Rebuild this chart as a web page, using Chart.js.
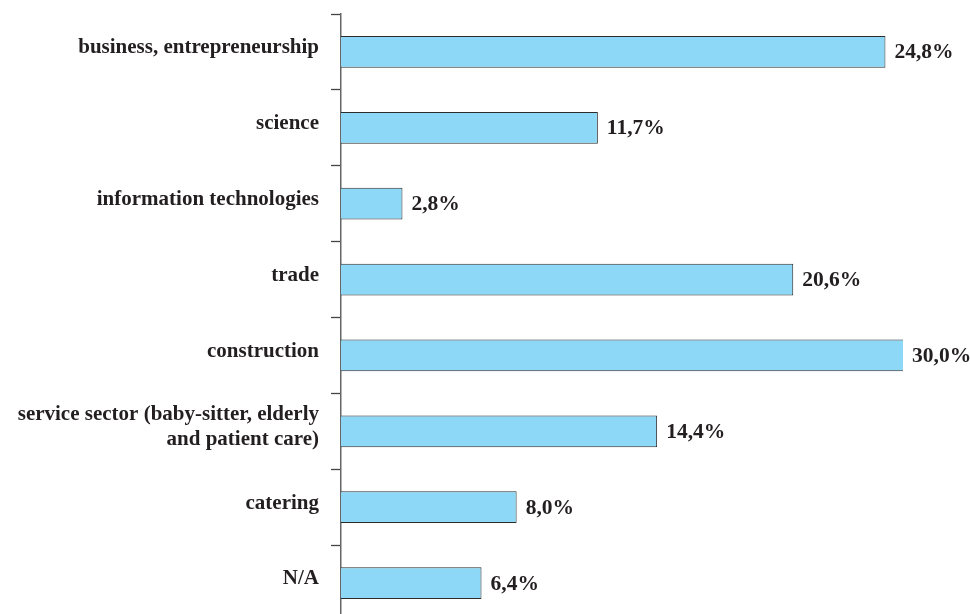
<!DOCTYPE html>
<html>
<head>
<meta charset="utf-8">
<script src="https://cdn.jsdelivr.net/npm/chart.js@4"></script>
<style>
  html, body { margin: 0; padding: 0; background: #fff; overflow: hidden; }
  #wrap { width: 970px; height: 640px; }
</style>
</head>
<body>
<div id="wrap"><canvas id="myChart" width="970" height="640"></canvas></div>
<script>
// categories and values
var categories = [
  'business, entrepreneurship',
  'science',
  'information technologies',
  'trade',
  'construction',
  ['service sector (baby-sitter, elderly', 'and patient care)'],
  'catering',
  'N/A'
];
var shares = [24.8, 11.7, 2.8, 20.6, 30.0, 14.4, 8.0, 6.4];

// the longest bar runs past the plot edge in the original, so the scale stops short
var axisMax = 25.6;

// draws "24,8%" style labels at the end of each bar
var valueLabels = {
  id: 'valueLabels',
  afterDatasetsDraw: function(chart) {
    var ctx = chart.ctx;
    var meta = chart.getDatasetMeta(0);
    ctx.save();
    ctx.font = 'bold 21.5px "Liberation Serif", "Times New Roman", serif';
    ctx.fillStyle = '#231f20';
    ctx.textAlign = 'left';
    ctx.textBaseline = 'middle';
    meta.data.forEach(function(bar, i) {
      var txt = shares[i].toFixed(1).replace('.', ',') + '%';
      var end = Math.min(bar.x, chart.chartArea.right);
      ctx.fillText(txt, end + 9, bar.y + 1);
    });
    ctx.restore();
  }
};

function displayChart() {
  var ctx = document.getElementById('myChart').getContext('2d');

  var myChart = new Chart(ctx, {
    type: 'bar',
    data: {
      labels: categories,
      datasets: [{
        data: shares,
        backgroundColor: '#8dd8f6',
        borderColor: '#2b2b2b',
        borderWidth: 1,
        barPercentage: 0.6,
        categoryPercentage: 0.7
      }]
    },
    options: {
      indexAxis: 'y',
      responsive: false,
      animation: false,
      layout: { padding: { top: 14, right: 67, bottom: 19, left: 0 } },
      plugins: {
        legend: { display: false },
        tooltip: { enabled: false }
      },
      scales: {
        x: {
          display: false,
          min: 0,
          max: axisMax
        },
        y: {
          afterFit: function(scale) {
            scale.width = 341;
            scale.paddingTop = 0;
            scale.paddingBottom = 0;
          },
          grid: {
            offset: true,
            drawOnChartArea: false,
            tickLength: 10,
            tickWidth: 1.3,
            color: '#444'
          },
          border: { color: '#666', width: 1.5 },
          ticks: {
            padding: 12,
            labelOffset: -4,
            color: '#231f20',
            font: { family: '"Liberation Serif", "Times New Roman", serif', size: 21, weight: 'bold', lineHeight: 1.2 }
          }
        }
      }
    },
    plugins: [valueLabels]
  });
}

displayChart();
</script>
</body>
</html>
